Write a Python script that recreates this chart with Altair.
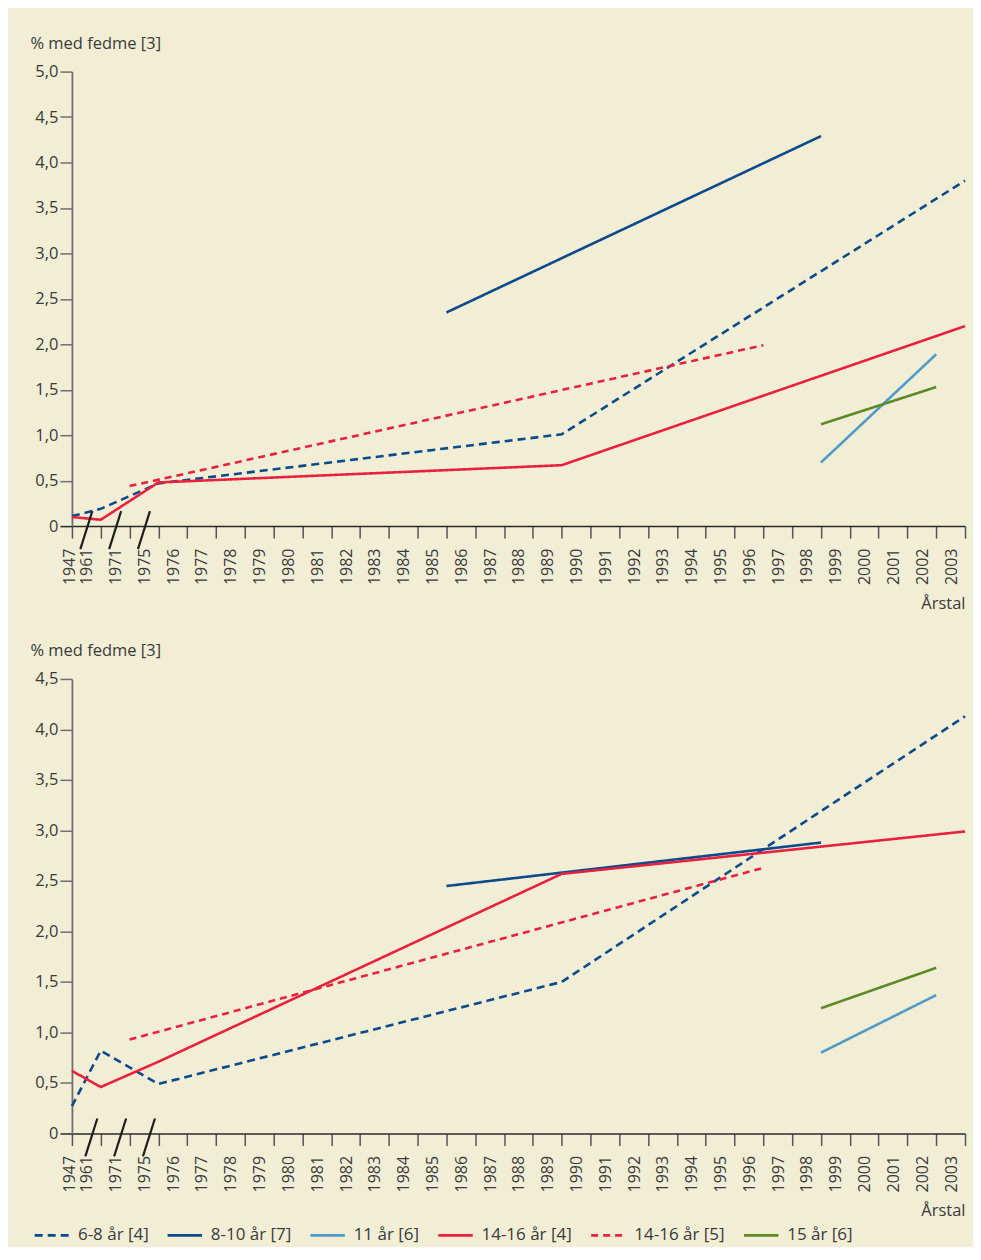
import json
import altair as alt
import pandas as pd

# ---------------- data ----------------
years = ["1947", "1961", "1971", "1975", "1976", "1977", "1978", "1979", "1980",
         "1981", "1982", "1983", "1984", "1985", "1986", "1987", "1988", "1989",
         "1990", "1991", "1992", "1993", "1994", "1995", "1996", "1997", "1998",
         "1999", "2000", "2001", "2002", "2003"]

series_names = ["6-8 år [4]", "8-10 år [7]", "11 år [6]",
                "14-16 år [4]", "14-16 år [5]", "15 år [6]"]
series_colors = ["#0b4a8b", "#0b4a8b", "#4f9ccb", "#e8213f", "#e8213f", "#5b8a27"]
series_dash = [[8, 5], [1, 0], [1, 0], [1, 0], [7, 5], [1, 0]]

# top panel
top_68_years = ["1947", "1961", "1975", "1989", "2003"]
top_68_vals = [0.11, 0.19, 0.47, 1.01, 3.80]
top_810_years = ["1985", "1998"]
top_810_vals = [2.35, 4.29]
top_11_years = ["1998", "2002"]
top_11_vals = [0.70, 1.89]
top_1416a_years = ["1947", "1961", "1975", "1989", "2003"]
top_1416a_vals = [0.10, 0.07, 0.48, 0.67, 2.20]
top_1416b_years = ["1971", "1996"]
top_1416b_vals = [0.44, 1.99]
top_15_years = ["1998", "2002"]
top_15_vals = [1.12, 1.53]

# bottom panel
bot_68_years = ["1947", "1961", "1975", "1989", "2003"]
bot_68_vals = [0.27, 0.82, 0.49, 1.50, 4.13]
bot_810_years = ["1985", "1998"]
bot_810_vals = [2.45, 2.88]
bot_11_years = ["1998", "2002"]
bot_11_vals = [0.80, 1.37]
bot_1416a_years = ["1947", "1961", "1975", "1989", "2003"]
bot_1416a_vals = [0.62, 0.46, 0.71, 2.57, 2.99]
bot_1416b_years = ["1971", "1996"]
bot_1416b_vals = [0.93, 2.63]
bot_15_years = ["1998", "2002"]
bot_15_vals = [1.24, 1.64]

top_ticks = [0, 0.5, 1, 1.5, 2, 2.5, 3, 3.5, 4, 4.5, 5]
bot_ticks = [0, 0.5, 1, 1.5, 2, 2.5, 3, 3.5, 4, 4.5]

axis_breaks = ["1947|1961", "1961|1971", "1971|1975"]

# ---------------- helpers ----------------
def build(parts):
    rows = []
    for name, yrs, vals in parts:
        for y, v in zip(yrs, vals):
            rows.append({"series": name, "i": years.index(y), "year": y, "value": v})
    return pd.DataFrame(rows)

top_df = build([
    (series_names[0], top_68_years, top_68_vals),
    (series_names[1], top_810_years, top_810_vals),
    (series_names[2], top_11_years, top_11_vals),
    (series_names[3], top_1416a_years, top_1416a_vals),
    (series_names[4], top_1416b_years, top_1416b_vals),
    (series_names[5], top_15_years, top_15_vals),
])
bot_df = build([
    (series_names[0], bot_68_years, bot_68_vals),
    (series_names[1], bot_810_years, bot_810_vals),
    (series_names[2], bot_11_years, bot_11_vals),
    (series_names[3], bot_1416a_years, bot_1416a_vals),
    (series_names[4], bot_1416b_years, bot_1416b_vals),
    (series_names[5], bot_15_years, bot_15_vals),
])

# break marks sit half way between the two neighbouring categories
brk_df = pd.DataFrame({
    "b": [(years.index(s.split("|")[0]) + years.index(s.split("|")[1])) / 2 for s in axis_breaks]
})

W, H = 894, 455
FONT = "Open Sans"
TXT = "#3a3a3a"
year_expr = json.dumps(years) + "[datum.value]"
ylab_expr = "datum.value == 0 ? '0' : replace(format(datum.value, '.1f'), '.', ',')"

legend = alt.Legend(
    orient="none", legendX=-39, legendY=1146, direction="horizontal", title=None,
    symbolType="stroke", symbolSize=1190, symbolStrokeWidth=2.6,
    labelFontSize=17, labelFont=FONT, labelColor=TXT, labelOffset=7,
    columnPadding=13, padding=0,
)


def panel(df, ymax, ticks, break_shift):
    x = alt.X(
        "i:Q",
        scale=alt.Scale(domain=[0, len(years) - 1], nice=False, zero=False),
        axis=alt.Axis(
            values=list(range(len(years))), tickCount=64, labelExpr=year_expr,
            labelAngle=270, labelAlign="right", labelBaseline="middle",
            labelPadding=10, tickSize=12, tickWidth=1.5, tickColor="#555555",
            labelOffset={"condition": {"test": "datum.value == 0", "value": -2}, "value": -14},
            labelOverlap=False, labelFlush=False, labelFontSize=16, labelFont=FONT,
            labelColor=TXT, domainColor="#2a2a2a", domainWidth=1.5, grid=False,
            title="Årstal", titleX=W, titleY=82, titleAlign="right",
            titleBaseline="alphabetic", titleFontSize=16.5, titleFont=FONT,
            titleFontWeight="normal", titleColor=TXT,
        ),
    )
    y = alt.Y(
        "value:Q",
        scale=alt.Scale(domain=[0, ymax], nice=False),
        axis=alt.Axis(
            values=ticks, tickCount=40, labelExpr=ylab_expr, tickSize=12, tickWidth=1.5,
            tickColor={"condition": {"test": "datum.value == 0", "value": "#2a2a2a"},
                       "value": "#6f6f6f"},
            labelPadding=2, labelFontSize=16.5, labelFont=FONT,
            labelColor=TXT, domainColor="#6f6f6f", domainWidth=1.8, grid=False,
            title="% med fedme [3]", titleAngle=0, titleX=-42, titleY=-28,
            titleAlign="left", titleBaseline="middle", titleFontSize=16.5,
            titleFont=FONT, titleFontWeight="normal", titleColor=TXT,
        ),
    )
    lines = alt.Chart(df).mark_line(strokeWidth=2.6, strokeCap="butt").encode(
        x=x, y=y,
        color=alt.Color("series:N", scale=alt.Scale(domain=series_names, range=series_colors),
                        legend=legend),
        strokeDash=alt.StrokeDash("series:N", scale=alt.Scale(domain=series_names, range=series_dash),
                                  legend=legend),
        detail="series:N",
    )
    slashes = alt.Chart(brk_df).mark_rule(
        color="#1e1e1e", strokeWidth=2.2, xOffset=-6 + break_shift, x2Offset=6 + break_shift
    ).encode(
        x=alt.X("b:Q"), x2=alt.X2("b"),
        y=alt.value(H + 23), y2=alt.value(H - 15),
    )
    return alt.layer(lines, slashes).properties(width=W, height=H)


top = panel(top_df, 5, top_ticks, 0)
bot = panel(bot_df, 4.5, bot_ticks, 5)

chart = alt.vconcat(top, bot, spacing=31).properties(
    background="#f2eed6",
    padding={"left": 22, "top": 27, "right": 2, "bottom": 3},
).configure_view(stroke=None).configure_axis(labelFont=FONT, titleFont=FONT)

chart.save("out.html", embed_options={"renderer": "svg", "actions": False})
